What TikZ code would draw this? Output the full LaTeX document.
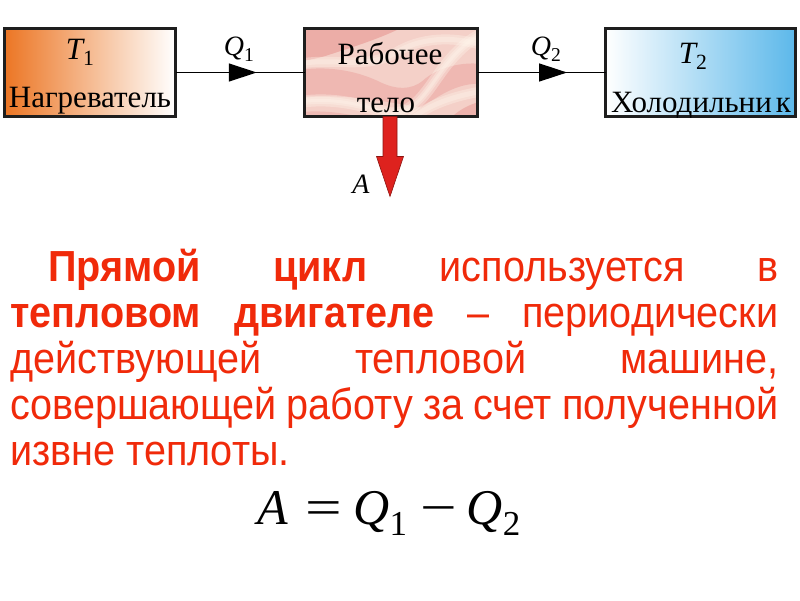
\documentclass[tikz,border=0pt]{standalone}
\usepackage{fontspec}
\usepackage{graphicx}
\setmainfont{Liberation Serif}
\newfontfamily\parafont[FakeStretch=0.91]{Liberation Sans}
\usetikzlibrary{decorations.markings,arrows.meta}
\definecolor{txtred}{RGB}{240,42,10}
\definecolor{heat}{RGB}{236,118,36}
\definecolor{cold}{RGB}{92,184,234}
\definecolor{boxline}{RGB}{30,30,30}
\definecolor{marblebase}{RGB}{244,208,200}
\definecolor{marbledark}{RGB}{232,150,146}
\definecolor{marblelight}{RGB}{255,246,236}
\definecolor{arrowred}{RGB}{222,34,30}
\definecolor{arrowedge}{RGB}{140,20,16}
\newcommand{\mysub}[1]{\raisebox{-0.22em}{\scalebox{0.7}{#1}}}
\begin{document}
\begin{tikzpicture}[x=1pt,y=-1pt,
  box/.style={draw=boxline, line width=3pt, minimum height=88pt, inner sep=0pt, outer sep=0pt},
  conn/.style={black, line width=1.2pt},
  midarrow/.style={postaction={decorate}, decoration={markings, mark=at position #1 with {\arrow{Triangle[length=28pt,width=18pt]}}}},
  boxtxt/.style={font=\fontsize{31}{31}\selectfont, inner sep=0pt, anchor=base},
  qtxt/.style={font=\fontsize{28}{28}\selectfont, inner sep=0pt, anchor=base},
  para/.style={font=\parafont\fontsize{43.5}{43.5}\selectfont, text=txtred, inner sep=0pt, anchor=base west},
  redarrow/.style={fill=arrowred, draw=arrowedge, line width=0.6pt, line join=miter},
  softdark/.style={fill=marbledark, opacity=#1},
  streak/.style={draw=marblelight, line width=#1, opacity=0.35, line cap=round},
  marble/.style={path picture={
    \begin{scope}[shift={(path picture bounding box.center)}]
      \fill[softdark=0.6] (-95,-50) -- (20,-50) .. controls (0,-38) and (-30,-28) .. (-55,-20) .. controls (-70,-15) .. (-95,-10) -- cycle;
      \fill[softdark=0.4] (-95,-2) .. controls (-60,-8) and (-30,0) .. (-10,10) .. controls (5,17) and (20,18) .. (32,8) .. controls (45,-4) and (70,-12) .. (95,-8) -- (95,12) .. controls (70,8) and (50,22) .. (30,35) .. controls (0,30) and (-50,20) .. (-95,25) -- cycle;
      \fill[softdark=0.5] (55,50) .. controls (68,36) and (82,30) .. (95,28) -- (95,50) -- cycle;
      \fill[softdark=0.35] (-95,40) .. controls (-60,36) and (-30,44) .. (-10,50) -- (-95,50) -- cycle;
      \foreach \w in {12pt,7pt,3pt}{
        \draw[streak=\w] (-95,30) .. controls (-60,24) and (-30,32) .. (-5,40) .. controls (20,46) and (35,20) .. (48,2) .. controls (62,-18) and (78,-34) .. (95,-40);
      }
      \foreach \w in {10pt,5pt}{
        \draw[streak=\w] (-95,-8) .. controls (-60,-16) and (-25,-2) .. (5,-20) .. controls (28,-34) and (60,-38) .. (95,-26);
        \draw[streak=\w] (15,50) .. controls (38,32) and (60,24) .. (95,18);
      }
    \end{scope}}}
]
\useasboundingbox (0,0) rectangle (800,600);

% boxes
\node[box, minimum width=171pt, left color=heat, right color=white] (heater) at (90,72.5) {};
\node[box, minimum width=173pt, fill=marblebase, marble] (work) at (391,72.5) {};
\node[box, minimum width=190pt, left color=white, right color=cold] (cooler) at (700.5,72.5) {};

% box texts
\node[boxtxt] (t1) at (80,59) {\itshape T\upshape\mysub{1}};
\node[boxtxt] (heatname) at (90,107) {Нагреватель};
\node[boxtxt] (workname1) at (390,64) {Рабочее};
\node[boxtxt] (workname2) at (386,112) {тело};
\node[boxtxt] (t2) at (693,63) {\itshape T\upshape\mysub{2}};
\node[boxtxt] (coolname) at (701,112) {Холодильни\hspace{4pt}к};

% connectors
\draw[conn, midarrow=0.63] (heater.east) -- (work.west);
\draw[conn, midarrow=0.70] (work.east) -- (cooler.west);
\node[qtxt] (q1) at (239,55) {\itshape Q\upshape\mysub{1}};
\node[qtxt] (q2) at (546,55) {\itshape Q\upshape\mysub{2}};

% work arrow
\coordinate (wbot) at ([xshift=-1pt]work.south);
\draw[redarrow] (wbot) ++(-7,0) -- ++(0,40) -- ++(-6.5,0) -- ++(13.5,40) -- ++(13.5,-40) -- ++(-6.5,0) -- ++(0,-40) -- cycle;
\node[font=\fontsize{28}{28}\selectfont\itshape, inner sep=0pt, anchor=base] (alabel) at (361,193) {A};

% paragraph
\node[para] (l1) at (48,281) {\makebox[730pt][s]{\textbf{Прямой} \textbf{цикл} используется в}};
\node[para] (l2) at (10,327) {\makebox[768pt][s]{\textbf{тепловом} \textbf{двигателе} – периодически}};
\node[para] (l3) at (10,373) {\makebox[768pt][s]{действующей тепловой машине,}};
\node[para] (l4) at (10,419) {\makebox[768pt][s]{совершающей работу за счет полученной}};
\node[para] (l5) at (10,465) {извне теплоты.};

% formula
\node[font=\fontsize{50}{50}\selectfont, inner sep=0pt, anchor=base west] (formula) at (257,524)
  {\itshape A\upshape\hspace{18pt}\scalebox{1.3}[1]{=}\hspace{11pt}\itshape Q\upshape\mysub{1}\hspace{13pt}\scalebox{1.3}[1]{−}\hspace{10pt}\itshape Q\upshape\mysub{2}};
\end{tikzpicture}
\end{document}
